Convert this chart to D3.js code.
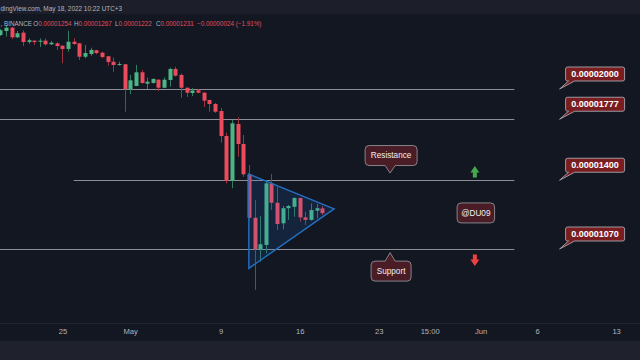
<!DOCTYPE html>
<html>
<head>
<meta charset="utf-8">
<script src="https://cdn.jsdelivr.net/npm/d3@7"></script>
<style>
  html, body { margin: 0; padding: 0; background: #131722; overflow: hidden; }
  svg { display: block; }
  text { font-family: "Liberation Sans", Arial, sans-serif; }
</style>
</head>
<body>
<svg id="chart" width="640" height="360"></svg>
<script>
// SHIB/USDT, 12h candles, prices in units of 1e-8 USDT (chart clock is UTC+3)
const firstBarOpen = "2022-04-19T15:00Z";
const opens  = [2470,2509,2542,2448,2493,2403,2416,2406,2416,2382,2391,2369,2339,2406,2391,2269,2293,2327,2305,2273,2225,2197,2203,2000,2024,2135,2042,2048,2074,2010,2072,2163,2113,2010,1969,1990,1971,1916,1886,1835,1664,1397,1744,1613,1433,1209,1069,1087,1383,1282,1183,1255,1262,1306,1211,1199,1243,1254];
const highs  = [2529,2569,2550,2509,2516,2439,2418,2439,2439,2413,2401,2372,2512,2439,2393,2375,2350,2330,2314,2275,2264,2225,2205,2113,2197,2154,2091,2086,2080,2094,2174,2182,2127,2012,2008,2000,1977,1918,1894,1857,1686,1772,1791,1671,1486,1296,1217,1401,1435,1365,1266,1271,1310,1308,1238,1279,1276,1267];
const lows   = [2460,2454,2432,2439,2366,2385,2375,2357,2369,2375,2330,2212,2314,2375,2240,2255,2278,2291,2255,2191,2140,2191,1830,1961,2022,2042,2000,2042,1985,2006,2018,2099,1933,1939,1946,1967,1864,1830,1821,1621,1383,1357,1535,1419,1203,912,1018,1052,1246,1152,1156,1199,1214,1190,1175,1195,1206,1222];
const closes = [2516,2542,2448,2487,2403,2420,2403,2416,2382,2397,2366,2339,2406,2385,2269,2302,2330,2302,2267,2223,2197,2205,2000,2069,2135,2048,2058,2080,2010,2074,2163,2107,2010,1971,1988,1971,1911,1886,1830,1664,1397,1749,1613,1433,1209,1069,1090,1383,1282,1180,1255,1266,1306,1211,1199,1246,1255,1231];

// horizontal key levels
const levelValues = [2000, 1777, 1400, 1070];
const levelFrom   = ["2022-04-18T00:00Z", "2022-04-18T00:00Z", "2022-04-26T03:00Z", "2022-04-18T00:00Z"];
const levelTo     = "2022-06-04T03:00Z";
const noteAt      = "2022-06-08T03:00Z";

// symmetrical triangle (time, price)
const triangleTimes  = ["2022-05-11T15:00Z", "2022-05-19T04:00Z", "2022-05-11T15:00Z"];
const trianglePrices = [1434, 1252, 992];

// text callouts
const resistanceAt = ["2022-05-24T03:00Z", 1440];
const supportAt    = ["2022-05-24T03:00Z", 1055];
const authorAt     = ["2022-05-31T15:00Z", 1232];
const upArrowAt    = ["2022-05-31T15:00Z", 1480];
const downArrowAt  = ["2022-05-31T15:00Z", 1001];

// time axis
const tickDates  = ["2022-04-25T03:00Z","2022-05-01T03:00Z","2022-05-09T03:00Z","2022-05-16T03:00Z","2022-05-23T03:00Z","2022-05-27T15:00Z","2022-06-01T03:00Z","2022-06-06T03:00Z","2022-06-13T03:00Z"];
const tickLabels = ["25","May","9","16","23","15:00","Jun","6","13"];

// header legend
const headerTitle = "dingView.com, May 18, 2022 10:22 UTC+3";
const legendSymbol = ", BINANCE";
const legendKeys = ["O", "H", "L", "C"];
const legendValues = ["0.00001254", "0.00001267", "0.00001222", "0.00001231"];
const legendChange = "\u22120.00000024 (\u22121.91%)";

const W = 640, H = 360;
const UP = "#4cb584", DOWN = "#ec4b5c", UP_WICK = "#2f7d5c", DOWN_WICK = "#a0323f";
const fmtNote = v => (v * 1e-8).toFixed(8);

const svg = d3.select("#chart");

// panels
svg.append("rect").attr("width", W).attr("height", H).attr("fill", "#131722");
svg.append("rect").attr("width", W).attr("height", 14).attr("fill", "#1c1f29");
svg.append("rect").attr("y", 341).attr("width", W).attr("height", H - 341).attr("fill", "#1f222c");
svg.append("line").attr("x1", 0).attr("x2", W).attr("y1", 323.5).attr("y2", 323.5)
  .attr("stroke", "#1f232e").attr("stroke-width", 1);

const t0 = new Date(firstBarOpen);
const barTimes = opens.map((_, i) => d3.utcHour.offset(t0, 12 * i));

const x = d3.scaleUtc()
  .domain([barTimes[0], barTimes[barTimes.length - 1]])
  .range([0.25, 322.3]);
const y = d3.scaleLog().domain([1070, 2000]).range([249, 89]);

svg.append("clipPath").attr("id", "plot")
  .append("rect").attr("x", 0).attr("y", 14).attr("width", W).attr("height", 309);

const plot = svg.append("g").attr("clip-path", "url(#plot)");

// level lines
plot.append("g").selectAll("line").data(levelValues).join("line")
  .attr("x1", (d, i) => x(new Date(levelFrom[i])))
  .attr("x2", x(new Date(levelTo)))
  .attr("y1", d => Math.round(y(d)) + 0.5)
  .attr("y2", d => Math.round(y(d)) + 0.5)
  .attr("stroke", "#8b8e97").attr("stroke-width", 1.1);

// candles
const candles = opens.map((o, i) => ({ t: barTimes[i], o, h: highs[i], l: lows[i], c: closes[i] }));
const cg = plot.append("g");
cg.selectAll("line").data(candles).join("line")
  .attr("x1", d => Math.round(x(d.t)) + 0.5)
  .attr("x2", d => Math.round(x(d.t)) + 0.5)
  .attr("y1", d => y(d.h)).attr("y2", d => y(d.l))
  .attr("stroke", d => d.c >= d.o ? UP_WICK : DOWN_WICK).attr("stroke-width", 1);
cg.selectAll("rect").data(candles).join("rect")
  .attr("x", d => Math.round(x(d.t)) - 1.5)
  .attr("width", 4)
  .attr("y", d => y(Math.max(d.o, d.c)))
  .attr("height", d => Math.max(1, Math.abs(y(d.o) - y(d.c))))
  .attr("fill", d => d.c >= d.o ? UP : DOWN);

// triangle
const triPts = triangleTimes.map((t, i) => [x(new Date(t)), y(trianglePrices[i])]);
plot.append("path")
  .attr("d", d3.line()(triPts) + "Z")
  .attr("fill", "rgba(33,120,243,0.13)")
  .attr("stroke", "#2470c4").attr("stroke-width", 1.4).attr("stroke-linejoin", "miter");

// price notes with tails
const noteX = x(new Date(noteAt));
const notes = svg.append("g");
levelValues.forEach(v => {
  const tx = noteX, ty = y(v);
  const L = tx + 6, R = tx + 65, B = ty - 8, T = B - 14, r = 2;
  const p = `M${L + 9},${B} L${R - r},${B} Q${R},${B} ${R},${B - r} L${R},${T + r} Q${R},${T} ${R - r},${T} ` +
            `L${L + r},${T} Q${L},${T} ${L},${T + r} L${L},${B - r} Q${L},${B} ${L + r},${B} ` +
            `L${L + 3},${B} L${tx},${ty} Z`;
  notes.append("path").attr("d", p).attr("fill", "#7a1d20").attr("stroke", "#a7a9b0").attr("stroke-width", 0.9);
  notes.append("text").attr("x", (L + R) / 2).attr("y", (T + B) / 2 + 3.2)
    .attr("text-anchor", "middle").attr("font-size", 9).attr("font-weight", "bold")
    .attr("fill", "#ffffff").text(fmtNote(v));
});

// callout boxes
function callout(label, at, dir, w) {
  const tx = x(new Date(at[0])), ty = y(at[1]);
  const h = 20, r = 4, cx = tx + 1;
  const L = cx - w / 2, R = cx + w / 2;
  let T, B, p;
  if (dir === "down") {
    B = ty - 7.5; T = B - h;
    p = `M${L + r},${T} L${R - r},${T} Q${R},${T} ${R},${T + r} L${R},${B - r} Q${R},${B} ${R - r},${B} ` +
        `L${tx + 5},${B} L${tx},${ty} L${tx - 5},${B} L${L + r},${B} Q${L},${B} ${L},${B - r} L${L},${T + r} Q${L},${T} ${L + r},${T} Z`;
  } else if (dir === "up") {
    T = ty + 8.5; B = T + h;
    p = `M${L + r},${T} L${tx - 5},${T} L${tx},${ty} L${tx + 5},${T} L${R - r},${T} Q${R},${T} ${R},${T + r} L${R},${B - r} Q${R},${B} ${R - r},${B} ` +
        `L${L + r},${B} Q${L},${B} ${L},${B - r} L${L},${T + r} Q${L},${T} ${L + r},${T} Z`;
  } else {
    T = ty - h / 2; B = ty + h / 2;
    p = `M${L + r},${T} L${R - r},${T} Q${R},${T} ${R},${T + r} L${R},${B - r} Q${R},${B} ${R - r},${B} ` +
        `L${L + r},${B} Q${L},${B} ${L},${B - r} L${L},${T + r} Q${L},${T} ${L + r},${T} Z`;
  }
  svg.append("path").attr("d", p).attr("fill", "#4a1c26").attr("stroke", "#8e8f95").attr("stroke-width", 0.9);
  svg.append("text").attr("x", cx).attr("y", (T + B) / 2 + 2.9)
    .attr("text-anchor", "middle").attr("font-size", 8.2).attr("fill", "#f0f0f0").text(label);
}
callout("Resistance", resistanceAt, "down", 52);
callout("Support", supportAt, "up", 40);
callout("@DU09", authorAt, "none", 37.5);

// direction arrows
function arrow(at, dir, color) {
  const ax = x(new Date(at[0])), ay = y(at[1]);
  const s = dir === "up" ? 1 : -1;
  const pts = [[ax, ay], [ax + 4.5, ay + s * 6.5], [ax + 2, ay + s * 6.5], [ax + 2, ay + s * 11.5],
               [ax - 2, ay + s * 11.5], [ax - 2, ay + s * 6.5], [ax - 4.5, ay + s * 6.5]];
  svg.append("path").attr("d", d3.line()(pts) + "Z").attr("fill", color);
}
arrow(upArrowAt, "up", "#45a84f");
arrow(downArrowAt, "down", "#ef4141");

// time axis
const axis = d3.axisBottom(x)
  .tickValues(tickDates.map(d => new Date(d)))
  .tickFormat((d, i) => tickLabels[i])
  .tickSize(0).tickPadding(0);
const ag = svg.append("g").attr("transform", "translate(0,329)").call(axis);
ag.select(".domain").remove();
ag.selectAll("text").attr("font-size", 7.6).attr("fill", "#b2b5be")
  .attr("font-family", "\"Liberation Sans\", Arial, sans-serif");

// header
svg.append("text").attr("x", 0.5).attr("y", 10.5)
  .attr("font-size", 6.4).attr("fill", "#b2b5be").text(headerTitle);

const legend = svg.append("text").attr("y", 25.5).attr("font-size", 6.3);
legend.append("tspan").attr("x", 0.5).attr("fill", "#b2b5be").text(legendSymbol);
const keyX = [33.3, 74, 115, 156];
legendKeys.forEach((k, i) => {
  legend.append("tspan").attr("x", keyX[i]).attr("fill", "#b2b5be").text(k);
  legend.append("tspan").attr("fill", "#e0505e").text(legendValues[i]);
});
legend.append("tspan").attr("x", 197).attr("fill", "#e0505e").text(legendChange);
</script>
</body>
</html>
